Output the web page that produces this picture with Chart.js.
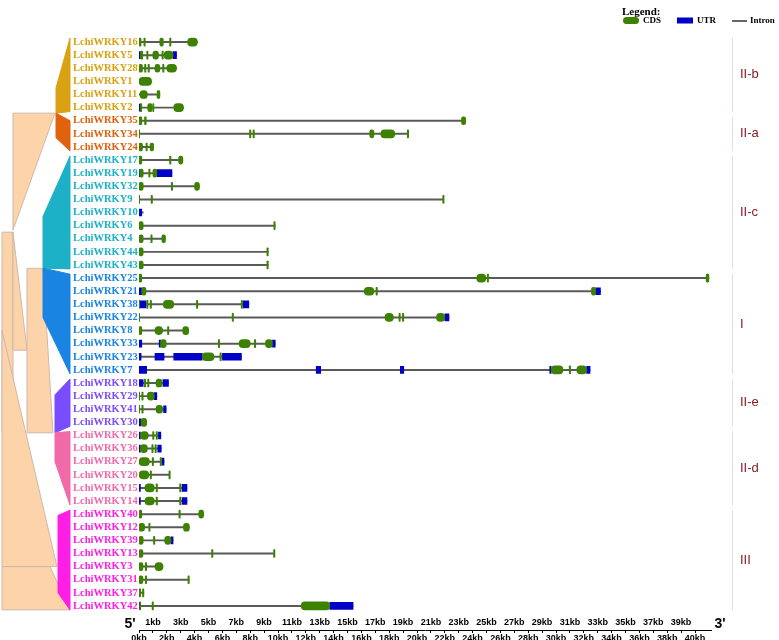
<!DOCTYPE html>
<html>
<head>
<meta charset="utf-8">
<script src="https://cdn.jsdelivr.net/npm/chart.js@4.4.0/dist/chart.umd.min.js"></script>
<style>
  html, body { margin: 0; padding: 0; background: #fff; }
  #wrap { width: 779px; height: 640px; position: relative; }
</style>
</head>
<body>
<div id="wrap"><canvas id="geneChart" width="779" height="640"></canvas></div>
<script>
// gene order, top to bottom
const genes = [
  'LchiWRKY16','LchiWRKY5','LchiWRKY28','LchiWRKY1','LchiWRKY11','LchiWRKY2',
  'LchiWRKY35','LchiWRKY34','LchiWRKY24',
  'LchiWRKY17','LchiWRKY19','LchiWRKY32','LchiWRKY9','LchiWRKY10','LchiWRKY6','LchiWRKY4','LchiWRKY44','LchiWRKY43',
  'LchiWRKY25','LchiWRKY21','LchiWRKY38','LchiWRKY22','LchiWRKY8','LchiWRKY33','LchiWRKY23','LchiWRKY7',
  'LchiWRKY18','LchiWRKY29','LchiWRKY41','LchiWRKY30',
  'LchiWRKY26','LchiWRKY36','LchiWRKY27','LchiWRKY20','LchiWRKY15','LchiWRKY14',
  'LchiWRKY40','LchiWRKY12','LchiWRKY39','LchiWRKY13','LchiWRKY3','LchiWRKY31','LchiWRKY37','LchiWRKY42'
];

// full gene length in kb (intron line)
const geneLength = [
  4.2, 2.7, 2.7, 0.9, 1.5, 3.2,
  23.5, 19.4, 1.05,
  3.15, 2.37, 4.35, 21.9, 0.3, 9.8, 1.9, 9.3, 9.3,
  41.0, 33.2, 7.9, 22.3, 3.57, 9.8, 7.37, 32.45,
  2.12, 1.28, 1.95, 0.55,
  1.57, 1.6, 1.8, 2.2, 3.45, 3.45,
  4.65, 3.62, 2.45, 9.75, 1.72, 3.6, 0.35, 15.4
];

// CDS blocks [start, end] in kb
const cdsParts = [
  [[0,0.15],[0.35,0.45],[1.5,1.75],[2.2,2.3],[3.5,4.2]],
  [[0.1,0.27],[0.55,0.65],[1.0,1.4],[1.65,1.75],[1.8,2.45]],
  [[0,0.25],[0.4,0.5],[0.65,0.75],[1.15,1.5],[1.7,1.8],[2.0,2.7]],
  [[0,0.9]],
  [[0.07,0.6],[1.3,1.5]],
  [[0.1,0.2],[0.63,0.96],[1.0,1.07],[2.5,3.2]],
  [[0,0.2],[0.4,0.52],[23.2,23.5]],
  [[0,0.05],[7.95,8.05],[8.2,8.3],[16.6,16.9],[17.4,18.4],[19.3,19.4]],
  [[0,0.25],[0.5,0.6],[0.8,1.05]],
  [[0,0.2],[2.2,2.3],[2.85,3.15]],
  [[0.05,0.3],[0.7,0.8],[1.0,1.28]],
  [[0,0.3],[2.32,2.42],[4.0,4.35]],
  [[0,0.05],[0.87,0.97],[21.85,21.95]],
  [],
  [[0,0.3],[9.7,9.8]],
  [[0,0.3],[0.85,0.95],[1.65,1.9]],
  [[0,0.3],[9.2,9.3]],
  [[0,0.3],[9.2,9.3]],
  [[0,0.2],[24.3,24.95],[25.05,25.15],[40.8,41.0]],
  [[0.2,0.5],[16.2,16.9],[17.05,17.15],[32.55,32.85]],
  [[0,0.05],[0.55,0.65],[0.8,0.9],[1.75,2.5],[4.13,4.23],[7.35,7.45]],
  [[0,0.05],[6.7,6.8],[17.7,18.3],[18.7,18.8],[18.95,19.05],[21.4,22.0]],
  [[0,0.2],[1.15,1.7],[2.05,2.15],[3.15,3.57]],
  [[1.55,1.95],[5.7,5.8],[7.2,8.0],[8.3,8.4],[9.1,9.6]],
  [[4.55,5.4],[5.82,5.92]],
  [[29.65,30.5],[30.95,31.05],[31.5,32.2]],
  [[0.38,0.48],[0.62,0.72],[1.23,1.65]],
  [[0,0.05],[0.2,0.3],[0.6,1.1]],
  [[0,0.05],[0.2,0.3],[1.23,1.7]],
  [[0.15,0.55]],
  [[0.1,0.67],[0.98,1.08],[1.23,1.33]],
  [[0.1,0.6],[0.92,1.02],[1.15,1.25]],
  [[0,0.75],[0.95,1.05],[1.52,1.62]],
  [[0,0.7],[0.8,0.9],[2.15,2.25]],
  [[0.43,1.1],[1.23,1.33],[2.92,3.02]],
  [[0.43,1.1],[1.23,1.33],[2.92,3.02]],
  [[0,0.2],[2.87,2.97],[4.3,4.65]],
  [[0,0.4],[0.7,0.8],[3.2,3.62]],
  [[0,0.3],[1.04,1.14],[1.85,2.3]],
  [[0,0.28],[5.22,5.32],[9.68,9.78]],
  [[0,0.28],[0.45,0.55],[1.15,1.72]],
  [[0,0.28],[0.45,0.55],[3.52,3.62]],
  [[0,0.12],[0.25,0.35]],
  [[0.05,0.12],[0.94,1.04],[11.67,13.72]]
];

// UTR blocks [start, end] in kb
const utrParts = [
  [], [[0,0.1],[2.45,2.7]], [], [], [], [[0,0.1]],
  [], [], [],
  [], [[0,0.05],[1.28,2.37]], [], [], [[0,0.2]], [], [], [], [],
  [], [[0,0.2],[32.85,33.2]], [[0.07,0.5],[7.5,7.9]], [[22.0,22.3]], [], [[0,0.2],[1.45,1.55],[9.6,9.8]],
  [[0,0.15],[1.15,1.8],[2.5,4.55],[6.0,7.37]], [[0,0.55],[12.75,13.07],[18.8,19.05],[29.55,29.65],[32.2,32.45]],
  [[0,0.3],[1.72,2.12]], [[1.1,1.28]], [[1.77,1.95]], [[0,0.15]],
  [[0,0.1],[1.4,1.57]], [[0,0.1],[1.35,1.6]], [[1.65,1.8]], [], [[0,0.1],[3.1,3.45]], [[0,0.1],[3.1,3.45]],
  [], [], [[2.3,2.45]], [], [], [], [], [[0,0.05],[13.72,15.4]]
];

// subfamily groups (consecutive rows)
const groupNames = ['II-b', 'II-a', 'II-c', 'I', 'II-e', 'II-d', 'III'];
const groupSizes = [6, 3, 9, 8, 4, 6, 8];
const groupColors = ['#daa213', '#e0620e', '#1cb1c6', '#1a84e2', '#7a4cff', '#f06aa8', '#ff1ee6'];

const kbMax = 40;
const xMax = 41.2;

// collapsed tree: polygons as [depth, row] pairs; colour -1 = backbone
const treeShapes = [
  { c: -1, pts: [[13, 5.42], [55, 5.42], [13, 14.34]] },
  { c: -1, pts: [[2, 14.5], [13, 14.5], [13, 29.8], [2, 29.8]] },
  { c: -1, pts: [[13, 14.5], [13, 23.5], [27, 23.5]] },
  { c: -1, pts: [[27, 17.25], [43, 17.25], [53, 29.8], [27, 29.8]] },
  { c: -1, pts: [[2, 22], [2, 40], [57, 40]] },
  { c: -1, pts: [[2, 40], [50, 40], [70, 43.3], [2, 43.3]] },
  { c: 0, pts: [[56, 3.5], [70, -0.3], [70, 5.3], [56, 5.42]] },
  { c: 1, pts: [[56, 5.42], [70, 6], [70, 8.3], [56, 7.3]] },
  { c: 2, pts: [[43, 13.3], [70, 8.7], [70, 17.3], [43, 17.24]] },
  { c: 3, pts: [[43, 17.24], [70, 17.7], [70, 25.3], [43, 21]] },
  { c: 4, pts: [[55, 26.9], [70, 25.7], [70, 29.3], [55, 29.8]] },
  { c: 5, pts: [[55, 29.8], [70, 29.7], [70, 35.3], [55, 32]] },
  { c: 6, pts: [[58, 36.1], [70, 35.7], [70, 43.3], [58, 42]] }
];

const rowGroup = [];
groupSizes.forEach((n, g) => { for (let i = 0; i < n; i++) rowGroup.push(g); });

const intronData = [], cdsData = [], utrData = [];
genes.forEach((g, i) => {
  intronData.push({ y: g, x: [0, geneLength[i]] });
  cdsParts[i].forEach(p => cdsData.push({ y: g, x: p }));
  utrParts[i].forEach(p => utrData.push({ y: g, x: p }));
});

// tree, group brackets, legend, odd kb labels and 5'/3' marks
const decorPlugin = {
  id: 'decor',
  beforeDatasetsDraw(chart) {
    const ctx = chart.ctx;
    const y = chart.scales.y;
    ctx.save();
    treeShapes.forEach(s => {
      ctx.beginPath();
      s.pts.forEach(([d, r], i) => {
        const py = y.getPixelForValue(r);
        if (i === 0) ctx.moveTo(d, py); else ctx.lineTo(d, py);
      });
      ctx.closePath();
      ctx.fillStyle = s.c < 0 ? '#fdd3a9' : groupColors[s.c];
      ctx.strokeStyle = s.c < 0 ? '#cdb9aa' : groupColors[s.c];
      ctx.lineWidth = 1;
      ctx.fill();
      ctx.stroke();
    });
    ctx.restore();
  },
  afterDraw(chart) {
    const ctx = chart.ctx;
    const y = chart.scales.y;
    const area = chart.chartArea;
    ctx.save();
    // group brackets and names
    let start = 0;
    groupSizes.forEach((n, g) => {
      const top = y.getPixelForValue(start - 0.5) + 2.5;
      const bot = y.getPixelForValue(start + n - 0.5) - 2.5;
      ctx.strokeStyle = '#e8d9ec';
      ctx.lineWidth = 1;
      ctx.beginPath();
      ctx.moveTo(732.5, top);
      ctx.lineTo(732.5, bot);
      ctx.stroke();
      ctx.fillStyle = '#8a1c24';
      ctx.font = '13px "Liberation Sans", Arial, sans-serif';
      ctx.textBaseline = 'middle';
      ctx.textAlign = 'left';
      ctx.fillText(groupNames[g], 740, y.getPixelForValue(start + (n - 1) / 2));
      start += n;
    });
    // legend
    ctx.fillStyle = '#000';
    ctx.font = 'bold 11px "Liberation Serif", serif';
    ctx.textBaseline = 'middle';
    ctx.fillText('Legend:', 622, 12);
    ctx.font = 'bold 9px "Liberation Serif", serif';
    ctx.fillStyle = '#3c8200';
    ctx.beginPath();
    ctx.roundRect(623, 17, 16, 7, 3.5);
    ctx.fill();
    ctx.fillStyle = '#0000c8';
    ctx.fillRect(677, 17.5, 16, 6);
    ctx.strokeStyle = '#000';
    ctx.lineWidth = 1.2;
    ctx.beginPath();
    ctx.moveTo(732, 21);
    ctx.lineTo(747, 21);
    ctx.stroke();
    ctx.fillStyle = '#000';
    ctx.fillText('CDS', 643, 21);
    ctx.fillText('UTR', 697, 21);
    ctx.fillText('Intron', 750, 21);
    // odd kb labels above the axis line
    const xs = chart.scales.x;
    const xb = chart.scales.x2;
    ctx.font = 'bold 9px "Liberation Sans", Arial, sans-serif';
    ctx.textAlign = 'center';
    xs.ticks.forEach(t => {
      if (t.value % 2 === 1) ctx.fillText(t.value + 'kb', xs.getPixelForValue(t.value), xb.top - 7);
    });
    // 5' / 3'
    ctx.font = 'bold 14px "Liberation Sans", Arial, sans-serif';
    ctx.fillText("5'", 130, xb.top - 6);
    ctx.fillText("3'", 720, xb.top - 6);
    ctx.restore();
  }
};

const axisFont = { family: '"Liberation Sans", Arial, sans-serif', weight: 'bold', size: 9 };
const keepTicks = s => { s.ticks = s.ticks.filter(t => t.value <= kbMax); };

new Chart(document.getElementById('geneChart'), {
  type: 'bar',
  data: {
    labels: genes,
    datasets: [
      { label: 'Intron', data: intronData, backgroundColor: '#5a5a5a', barThickness: 1.3, grouped: false, order: 3 },
      { label: 'UTR', data: utrData, backgroundColor: '#0000c8', barThickness: 7, grouped: false, order: 2 },
      { label: 'CDS', data: cdsData, backgroundColor: '#3c8200', barThickness: 8, borderRadius: 4, borderSkipped: false, grouped: false, order: 1 }
    ]
  },
  options: {
    indexAxis: 'y',
    responsive: false,
    animation: false,
    layout: { padding: { left: 73, right: 779 - (139 + xMax * 13.9), top: 35.5, bottom: 0 } },
    plugins: { legend: { display: false }, tooltip: { enabled: false } },
    scales: {
      y: {
        type: 'category',
        offset: true,
        grid: { display: false },
        border: { display: false },
        ticks: {
          autoSkip: false,
          crossAlign: 'far',
          padding: 0,
          color: c => groupColors[rowGroup[c.index]],
          font: { family: '"Liberation Serif", "Times New Roman", serif', weight: 'bold', size: 10.5 }
        },
        afterFit: s => { s.width = 66; }
      },
      x: {
        type: 'linear', min: 0, max: xMax, position: 'bottom',
        grid: { display: false },
        border: { display: false },
        afterBuildTicks: keepTicks,
        ticks: { display: false, stepSize: 1, autoSkip: false },
        afterFit: s => { s.height = 17.5; }
      },
      x2: {
        type: 'linear', min: 0, max: xMax, position: 'bottom',
        grid: { display: true, drawOnChartArea: false, drawTicks: true, tickLength: 3, color: '#000', lineWidth: 1 },
        border: { display: true, color: '#000', width: 1 },
        afterBuildTicks: keepTicks,
        ticks: {
          stepSize: 1, autoSkip: false, maxRotation: 0, padding: 0, color: '#000', font: axisFont,
          callback: v => (v % 2 === 0 ? v + 'kb' : '')
        },
        afterFit: s => { s.height = 10; }
      }
    }
  },
  plugins: [decorPlugin]
});
</script>
</body>
</html>
